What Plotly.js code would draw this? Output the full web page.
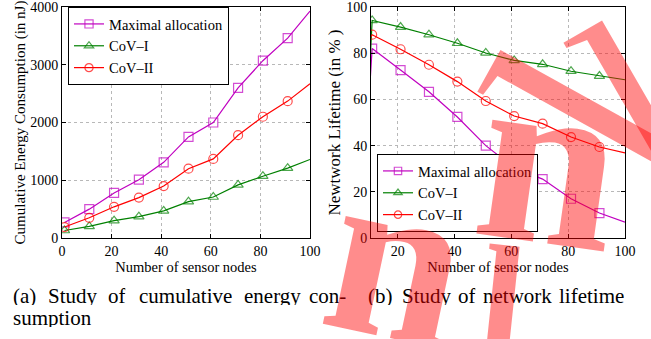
<!DOCTYPE html>
<html><head><meta charset="utf-8">
<script src="https://cdn.plot.ly/plotly-3.0.1.min.js"></script>
<style>body{margin:0;background:#fff}</style></head>
<body><div id="chart" style="width:651px;height:339px"></div>
<script>
// ---- data ----
const nodesA = [1, 11, 21, 31, 41, 51, 61, 71, 81, 91, 100];
const energyMax  = [270, 500, 780, 1010, 1310, 1750, 2000, 2600, 3070, 3460, 3930];
const energyCoV1 = [130, 200, 300, 370, 470, 630, 710, 920, 1070, 1210, 1360];
const energyCoV2 = [190, 350, 540, 700, 900, 1200, 1370, 1780, 2100, 2370, 2670];
const markA = [1, 1, 1, 1, 1, 1, 1, 1, 1, 1, 0];

const nodesB = [10, 11, 21, 31, 41, 51, 61, 71, 81, 91, 100];
const lifeMax  = [62, 82, 72.7, 63.3, 52.4, 40, 30.4, 25.5, 17, 10.8, 6.9];
const lifeCoV1 = [69, 94.2, 91.3, 88, 84.3, 80.1, 76.9, 75.2, 72.2, 70.1, 68.5];
const lifeCoV2 = [86, 88, 81.7, 75, 67.7, 59.3, 52.8, 49.5, 43.7, 39.4, 36.8];
const markB = [0, 1, 1, 1, 1, 1, 1, 1, 1, 1, 0];

const seriesNames = ['Maximal allocation', 'CoV\u2013I', 'CoV\u2013II'];
const xTicksA = [0, 20, 40, 60, 80, 100];
const yTicksA = [0, 1000, 2000, 3000, 4000];
const xTicksB = [20, 40, 60, 80, 100];
const yTicksB = [0, 20, 40, 60, 80, 100];

// ---- styles ----
const colors = ['#c000c0', '#008000', '#ff0000'];
const symbols = ['square-open', 'triangle-up-open', 'circle-open'];
const FONT = 'Liberation Serif, Times New Roman, serif';
const W = 651, H = 339;

function mk(x, y, i, xa, ya, leg, flags) {
  return {
    x: x, y: y, name: seriesNames[i], type: 'scatter', mode: 'lines+markers',
    xaxis: xa, yaxis: ya, legend: leg,
    line: {color: colors[i], width: 1.2},
    marker: {symbol: symbols[i], size: flags.map(f => f ? 9 : 0), color: colors[i], line: {width: 1.2, color: colors[i]}},
    cliponaxis: true
  };
}

const traces = [
  mk(nodesA, energyMax, 0, 'x', 'y', 'legend', markA),
  mk(nodesA, energyCoV1, 1, 'x', 'y', 'legend', markA),
  mk(nodesA, energyCoV2, 2, 'x', 'y', 'legend', markA),
  mk(nodesB, lifeMax, 0, 'x2', 'y2', 'legend2', markB),
  mk(nodesB, lifeCoV1, 1, 'x2', 'y2', 'legend2', markB),
  mk(nodesB, lifeCoV2, 2, 'x2', 'y2', 'legend2', markB)
];

function ax(extra) {
  return Object.assign({
    showline: true, linecolor: '#000', linewidth: 1, mirror: 'ticks',
    ticks: 'inside', ticklen: 4, tickcolor: '#000',
    showgrid: true, gridcolor: '#b8b8b8', griddash: 'dot', gridwidth: 1,
    zeroline: false, tickfont: {family: FONT, size: 14, color: '#000'},
    tickmode: 'array', automargin: false, ticklabeloverflow: 'allow'
  }, extra);
}

const yTop = 7, yBot = 238;
const ydom = [(H - yBot) / H, (H - yTop) / H];

const layout = {
  width: W, height: H, margin: {l: 0, r: 0, t: 0, b: 0},
  paper_bgcolor: '#fff', plot_bgcolor: '#fff', showlegend: true,
  font: {family: FONT, color: '#000'},
  xaxis: ax({domain: [62 / W, 310 / W], range: [0, 100], tickvals: xTicksA, anchor: 'y',
    title: {text: 'Number of sensor nodes', font: {family: FONT, size: 14.5}, standoff: 2}}),
  yaxis: ax({domain: ydom, range: [0, 4000], tickvals: yTicksA, anchor: 'x',
    title: {text: 'Cumulative Energy Consumption (in nJ)', font: {family: FONT, size: 15}, standoff: 0}}),
  xaxis2: ax({domain: [371 / W, 625 / W], range: [10.6, 100], tickvals: xTicksB, anchor: 'y2',
    title: {text: 'Number of sensor nodes', font: {family: FONT, size: 14.5}, standoff: 2}}),
  yaxis2: ax({domain: ydom, range: [0, 100], tickvals: yTicksB, anchor: 'x2',
    title: {text: 'Newtwork Lifetime (in % )', font: {family: FONT, size: 17}, standoff: 1}}),
  legend: {x: 68 / W, y: (H - 7) / H, xanchor: 'left', yanchor: 'top', bgcolor: '#fff',
    bordercolor: '#000', borderwidth: 1, font: {family: FONT, size: 14.5, color: '#000'},
    tracegroupgap: 0, itemwidth: 30},
  legend2: {x: 377 / W, y: (H - 232) / H, xanchor: 'left', yanchor: 'bottom', bgcolor: '#fff',
    bordercolor: '#000', borderwidth: 1, font: {family: FONT, size: 14.5, color: '#000'},
    tracegroupgap: 0, itemwidth: 30},
  annotations: []
};

// captions (justified words)
const capA1 = [['(a)', 12], ['Study', 47], ['of', 107], ['cumulative', 138], ['energy', 243], ['con-', 308]];
const capA2 = [['sumption', 12]];
const capB1 = [['(b)', 367], ['Study', 401], ['of', 457], ['network', 482], ['lifetime', 558]];
function addWords(words, yc) {
  words.forEach(w => layout.annotations.push({
    text: w[0], x: w[1] / W, y: 1 - yc / H, xref: 'paper', yref: 'paper',
    xanchor: 'left', yanchor: 'middle', showarrow: false, height: 19,
    font: {family: FONT, size: 21, color: '#000'}, xshift: -1
  }));
}
addWords(capA1, 295);
addWords(capA2, 317);
addWords(capB1, 295);

// watermark glyphs (semi-transparent red, drawn over the chart)
const WM = 'rgba(255,0,0,0.45)';
const wmGlyphs = [
  // [glyph, centre x px, centre y px, font size, angle, bold]
  ['n', 398, 257, 240, 12, true],
  ['n', 550, 158, 250, 8, true],
  ['l', 502, 302, 160, 6, true],
  ['l', 588, 113, 300, -61, false],
  ['l', 642, 112, 280, -30, false]
];
wmGlyphs.forEach(g => layout.annotations.push({
  text: g[5] ? '<b>' + g[0] + '</b>' : g[0], x: g[1] / W, y: 1 - g[2] / H, xref: 'paper', yref: 'paper',
  xanchor: 'center', yanchor: 'middle', showarrow: false, textangle: g[4],
  font: {family: FONT, size: g[3], color: WM}
}));

Plotly.newPlot('chart', traces, layout, {staticPlot: true, displayModeBar: false});
</script></body></html>
